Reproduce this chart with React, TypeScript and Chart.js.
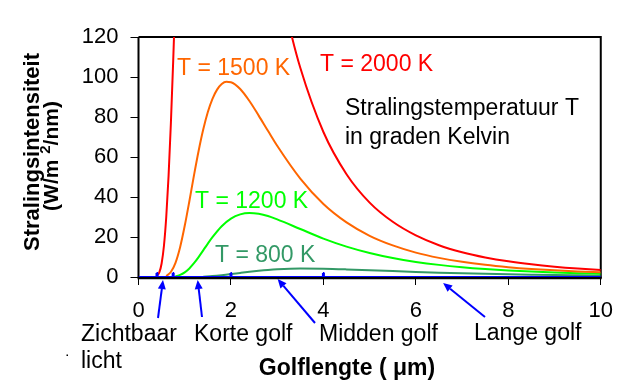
import React, { useEffect, useRef } from "react";
import { Chart, registerables } from "chart.js";

Chart.register(...registerables);

const FONT = "'Liberation Sans', Arial, Helvetica, sans-serif";

// ---- data ----
const xTickValues = [0, 2, 4, 6, 8, 10];
const yTickValues = [0, 20, 40, 60, 80, 100, 120];

const lambda2000 = [0.4, 0.45, 0.5, 0.55, 0.6, 0.65, 0.7, 0.75, 0.8, 0.9, 1.0, 1.2, 1.4, 1.6, 1.8, 2.0, 2.2, 2.4, 2.6, 2.8, 3.0, 3.25, 3.5, 4.0, 4.5, 5.0, 5.5, 6.0, 6.5, 7.0, 7.5, 8.0, 8.5, 9.0, 9.5, 10.0];
const t2000 = [0.57, 2.31, 6.76, 15.5, 29.9, 50.3, 76.6, 107.7, 142.0, 214.1, 281.3, 375.6, 410.5, 402.4, 370.7, 329.5, 286.9, 246.9, 211.2, 180.3, 154.0, 126.7, 104.6, 72.5, 51.4, 37.2, 27.6, 20.8, 15.9, 12.4, 9.8, 7.83, 6.34, 5.18, 4.27, 3.55];

const lambda1500 = [0.6, 0.7, 0.8, 0.9, 1.0, 1.1, 1.2, 1.3, 1.4, 1.5, 1.6, 1.7, 1.8, 1.9, 2.0, 2.2, 2.4, 2.6, 2.8, 3.0, 3.5, 4.0, 4.5, 5.0, 5.5, 6.0, 6.5, 7.0, 7.5, 8.0, 8.5, 9.0, 9.5, 10.0];
const t1500 = [0.55, 2.49, 7.09, 14.9, 25.6, 37.9, 50.8, 63.0, 73.7, 82.5, 89.1, 93.7, 96.5, 97.6, 97.4, 94.0, 88.0, 80.7, 73.1, 65.6, 49.2, 36.5, 27.3, 20.6, 15.8, 12.2, 9.56, 7.58, 6.08, 4.93, 4.03, 3.33, 2.77, 2.33];

const lambda1200 = [0.8, 0.9, 1.0, 1.1, 1.2, 1.3, 1.4, 1.5, 1.6, 1.8, 2.0, 2.2, 2.4, 2.6, 2.8, 3.0, 3.5, 4.0, 4.5, 5.0, 5.5, 6.0, 6.5, 7.0, 7.5, 8.0, 8.5, 9.0, 9.5, 10.0];
const t1200 = [0.35, 1.04, 2.32, 4.29, 6.88, 9.95, 13.3, 16.7, 19.9, 25.4, 29.2, 31.3, 32.0, 31.6, 30.5, 28.8, 24.0, 19.2, 15.2, 12.0, 9.48, 7.55, 6.06, 4.9, 4.0, 3.29, 2.72, 2.27, 1.91, 1.62];

const lambda800 = [1.4, 1.6, 1.8, 2.0, 2.2, 2.4, 2.6, 2.8, 3.0, 3.5, 4.0, 4.5, 5.0, 5.5, 6.0, 6.5, 7.0, 7.5, 8.0, 8.5, 9.0, 9.5, 10.0];
const t800 = [0.18, 0.47, 0.91, 1.45, 2.05, 2.62, 3.12, 3.54, 3.85, 4.2, 4.12, 3.8, 3.37, 2.94, 2.53, 2.16, 1.85, 1.58, 1.35, 1.16, 0.99, 0.86, 0.74];

const lambdaBase = [0, 10];
const tBase = [0, 0];

// band boundaries marked on the axis (µm)
const bandEdges = [0.4, 0.75, 2, 4];

const ORANGE = "#FF6600";
const RED = "#FF0000";
const GREEN = "#00FF00";
const TEAL = "#339966";
const BLUE = "#0000FF";

// ---- annotation layout ----
const labels = [
  { text: "T = 1500 K", x: 177, y: 75, color: ORANGE, size: 23 },
  { text: "T = 2000 K", x: 320, y: 71, color: RED, size: 23 },
  { text: "Stralingstemperatuur T", x: 345, y: 115, color: "#000", size: 23 },
  { text: "in graden Kelvin", x: 345, y: 144, color: "#000", size: 23 },
  { text: "T = 1200 K", x: 195, y: 208, color: GREEN, size: 23 },
  { text: "T = 800 K", x: 215, y: 262, color: TEAL, size: 23 },
  { text: "Zichtbaar", x: 81, y: 341, color: "#000", size: 23 },
  { text: "licht", x: 81, y: 368, color: "#000", size: 23 },
  { text: "Korte golf", x: 194, y: 341, color: "#000", size: 23 },
  { text: "Midden golf", x: 319, y: 341, color: "#000", size: 23 },
  { text: "Lange golf", x: 474, y: 340, color: "#000", size: 23 },
];

const arrows = [
  { at: 0.53, headY: 280, tailX: 158, tailY: 318 },
  { at: 1.28, headY: 280, tailX: 202, tailY: 317 },
  { at: 3.01, headY: 279, tailX: 315, tailY: 323 },
  { at: 6.59, headY: 283, tailX: 485, tailY: 317 },
];

const toPoints = (xs: number[], ys: number[]) => xs.map((x, i) => ({ x, y: ys[i] }));

const decorPlugin = {
  id: "decor",
  beforeDatasetsDraw(chart: any) {
    const { ctx, chartArea } = chart;
    const { left, right, top, bottom } = chartArea;
    ctx.save();
    ctx.strokeStyle = "#000";
    ctx.lineWidth = 2;
    ctx.beginPath();
    ctx.moveTo(left, top);
    ctx.lineTo(right, top);
    ctx.lineTo(right, bottom + 1);
    ctx.moveTo(left, top);
    ctx.lineTo(left, bottom + 1);
    ctx.stroke();
    ctx.lineWidth = 2.5;
    ctx.beginPath();
    ctx.moveTo(left - 1, bottom + 1);
    ctx.lineTo(right + 1, bottom + 1);
    ctx.stroke();
    ctx.restore();
  },
  afterDatasetsDraw(chart: any) {
    const { ctx, chartArea, scales } = chart;
    const xs = scales.x;
    ctx.save();
    ctx.fillStyle = BLUE;
    bandEdges.forEach((v) => {
      const px = xs.getPixelForValue(v);
      ctx.fillRect(px - 1.5, chartArea.bottom - 4, 3, 4);
      ctx.fillRect(px - 0.5, chartArea.bottom - 5, 1.5, 1);
    });
    ctx.restore();
  },
  afterDraw(chart: any) {
    const { ctx, scales } = chart;
    const xs = scales.x;
    ctx.save();
    ctx.textBaseline = "alphabetic";
    ctx.textAlign = "left";
    labels.forEach((l) => {
      ctx.font = `${l.size}px ${FONT}`;
      ctx.fillStyle = l.color;
      ctx.fillText(l.text, l.x, l.y);
    });

    // arrows
    ctx.strokeStyle = BLUE;
    ctx.fillStyle = BLUE;
    ctx.lineWidth = 2;
    arrows.forEach((a) => {
      const hx = xs.getPixelForValue(a.at);
      const hy = a.headY;
      const dx = hx - a.tailX;
      const dy = hy - a.tailY;
      const len = Math.sqrt(dx * dx + dy * dy);
      const ux = dx / len;
      const uy = dy / len;
      const hl = 9;
      const hw = 4;
      const bx = hx - ux * hl;
      const by = hy - uy * hl;
      ctx.beginPath();
      ctx.moveTo(a.tailX, a.tailY);
      ctx.lineTo(bx, by);
      ctx.stroke();
      ctx.beginPath();
      ctx.moveTo(hx, hy);
      ctx.lineTo(bx - uy * hw, by + ux * hw);
      ctx.lineTo(bx + uy * hw, by - ux * hw);
      ctx.closePath();
      ctx.fill();
    });

    // stray dot
    ctx.fillStyle = "#000";
    ctx.fillRect(66.5, 354.5, 1.5, 1.5);

    // x axis title
    ctx.font = `bold 23px ${FONT}`;
    ctx.fillStyle = "#000";
    ctx.textAlign = "center";
    ctx.fillText("Golflengte ( \u03bcm)", 347, 375);

    // y axis title (rotated, two lines)
    ctx.save();
    ctx.translate(39, 152);
    ctx.rotate(-Math.PI / 2);
    ctx.font = `bold 22px ${FONT}`;
    ctx.textAlign = "center";
    ctx.fillText("Stralingsintensiteit", 0, 0);
    ctx.restore();

    ctx.save();
    ctx.translate(58, 156);
    ctx.rotate(-Math.PI / 2);
    ctx.textAlign = "left";
    const big = `bold 21px ${FONT}`;
    const small = `bold 15px ${FONT}`;
    const p1 = "(W/m ";
    const p2 = "2";
    const p3 = "/nm)";
    ctx.font = big;
    const w1 = ctx.measureText(p1).width;
    const w3 = ctx.measureText(p3).width;
    ctx.font = small;
    const w2 = ctx.measureText(p2).width;
    let x0 = -(w1 + w2 + w3) / 2;
    ctx.font = big;
    ctx.fillText(p1, x0, 0);
    x0 += w1;
    ctx.font = small;
    ctx.fillText(p2, x0, -8);
    x0 += w2;
    ctx.font = big;
    ctx.fillText(p3, x0, 0);
    ctx.restore();

    ctx.restore();
  },
};

export default function App() {
  const ref = useRef<HTMLCanvasElement | null>(null);

  useEffect(() => {
    document.body.style.margin = "0";
    const canvas = ref.current;
    if (!canvas) return;
    const line = (data: { x: number; y: number }[], color: string) => ({
      data,
      borderColor: color,
      backgroundColor: color,
      borderWidth: 2,
      pointRadius: 0,
      pointHoverRadius: 0,
      fill: false,
      cubicInterpolationMode: "monotone" as const,
    });
    const chart = new Chart(canvas, {
      type: "line",
      data: {
        datasets: [
          line(toPoints(lambdaBase, tBase), BLUE),
          line(toPoints(lambda2000, t2000), RED),
          line(toPoints(lambda1500, t1500), ORANGE),
          line(toPoints(lambda1200, t1200), GREEN),
          line(toPoints(lambda800, t800), TEAL),
        ],
      },
      options: {
        responsive: false,
        animation: false,
        events: [],
        layout: { padding: { top: 37, right: 21.5, left: 0, bottom: 0 } },
        plugins: {
          legend: { display: false },
          tooltip: { enabled: false },
          title: { display: false },
        },
        scales: {
          x: {
            type: "linear",
            min: 0,
            max: 10,
            afterBuildTicks: (s: any) => {
              s.ticks = xTickValues.map((v) => ({ value: v }));
            },
            afterFit: (s: any) => {
              s.height = 115;
            },
            ticks: {
              color: "#000",
              font: { family: FONT, size: 22 },
              padding: 13,
              maxRotation: 0,
              autoSkip: false,
            },
            grid: {
              drawOnChartArea: false,
              drawTicks: true,
              tickLength: 8,
              color: "#000",
              lineWidth: 1,
            },
            border: { display: false },
          },
          y: {
            type: "linear",
            min: 0,
            max: 120,
            afterBuildTicks: (s: any) => {
              s.ticks = yTickValues.map((v) => ({ value: v }));
            },
            afterFit: (s: any) => {
              s.width = 138.5;
            },
            ticks: {
              color: "#000",
              font: { family: FONT, size: 22 },
              padding: 12,
              autoSkip: false,
            },
            grid: {
              drawOnChartArea: false,
              drawTicks: true,
              tickLength: 8,
              color: "#000",
              lineWidth: 1,
            },
            border: { display: false },
          },
        },
      },
      plugins: [decorPlugin],
    });
    return () => chart.destroy();
  }, []);

  return (
    <div style={{ width: 626, height: 392, background: "#fff" }}>
      <canvas ref={ref} width={626} height={392} style={{ display: "block" }} />
    </div>
  );
}
